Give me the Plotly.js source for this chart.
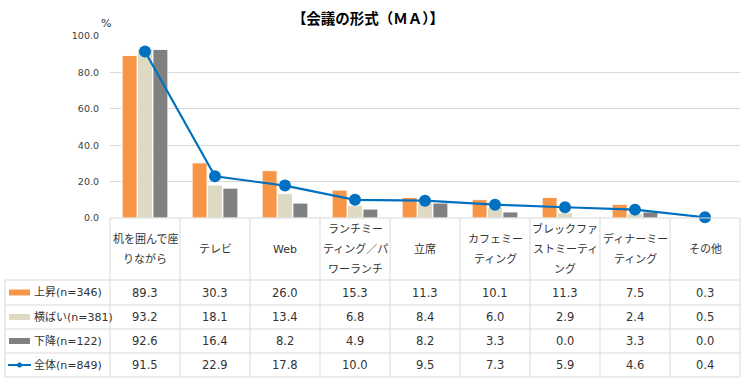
<!DOCTYPE html>
<html>
<head>
<meta charset="utf-8">
<script src="https://cdn.plot.ly/plotly-3.0.1.min.js"></script>
<style>html,body{margin:0;padding:0;background:#fff;}#chart{width:748px;height:385px;}</style>
</head>
<body>
<div id="chart"></div>
<script>
// ---- data ----
const categories = ['机を囲んで座\nりながら', 'テレビ', 'Web', 'ランチミー\nティング／パ\nワーランチ', '立席', 'カフェミー\nティング', 'ブレックファ\nストミーティ\nング', 'ディナーミー\nティング', 'その他'];
const seriesNames = ['上昇(n=346)', '横ばい(n=381)', '下降(n=122)', '全体(n=849)'];
const upValues = [89.3, 30.3, 26.0, 15.3, 11.3, 10.1, 11.3, 7.5, 0.3];
const flatValues = [93.2, 18.1, 13.4, 6.8, 8.4, 6.0, 2.9, 2.4, 0.5];
const downValues = [92.6, 16.4, 8.2, 4.9, 8.2, 3.3, 0.0, 3.3, 0.0];
const totalValues = [91.5, 22.9, 17.8, 10.0, 9.5, 7.3, 5.9, 4.6, 0.4];
const yTicks = [0, 20, 40, 60, 80, 100];
const titleText = '【会議の形式（ＭＡ）】';
const unitText = '%';

// ---- style ----
const colors = ['#F79646', '#DDD9C3', '#808080', '#0070C0'];
const W = 748, H = 385;
const L = 110, R = 740, T = 36, B = 218;
const rowEdges = [280, 305, 329, 353, 377];
const tableLeft = 5;
const lineCol = '#D9D9D9';
const numFont = 'DejaVu Sans, Noto Sans CJK JP, sans-serif';
const jpFont = 'DejaVu Sans, Noto Sans CJK JP, sans-serif';
const txtCol = '#333333';

const px = p => (p - L) / (R - L);
const py = p => (B - p) / (B - T);

const xIdx = categories.map((c, i) => i);
const barSeries = [upValues, flatValues, downValues];
const traces = barSeries.map((vals, k) => ({
  type: 'bar', x: xIdx, y: vals, name: seriesNames[k],
  marker: {color: colors[k], line: {color: 'rgba(255,255,255,0.9)', width: 1}},
  hoverinfo: 'y'
}));
traces.push({
  type: 'scatter', mode: 'lines+markers', x: xIdx, y: totalValues, name: seriesNames[3],
  line: {color: colors[3], width: 2.2},
  marker: {color: colors[3], size: 12},
  cliponaxis: false
});

const shapes = [];
const annotations = [];
const n = categories.length;

// horizontal table lines
shapes.push({type: 'line', xref: 'paper', yref: 'paper', x0: 0, x1: 1, y0: py(B), y1: py(B), line: {color: lineCol, width: 1}});
rowEdges.forEach(r => shapes.push({type: 'line', xref: 'paper', yref: 'paper', x0: px(tableLeft), x1: 1, y0: py(r), y1: py(r), line: {color: lineCol, width: 1}}));
// vertical table lines
shapes.push({type: 'line', xref: 'paper', yref: 'paper', x0: px(tableLeft), x1: px(tableLeft), y0: py(rowEdges[0]), y1: py(rowEdges[rowEdges.length - 1]), line: {color: lineCol, width: 1}});
for (let i = 0; i <= n; i++) {
  const xp = i / n;
  shapes.push({type: 'line', xref: 'paper', yref: 'paper', x0: xp, x1: xp, y0: py(B), y1: py(rowEdges[rowEdges.length - 1]), line: {color: lineCol, width: 1}});
}

// header labels
const headerMid = (B + rowEdges[0]) / 2;
categories.forEach((c, i) => {
  const lines = c.split('\n');
  lines.forEach((ln, k) => {
    const yPix = headerMid + (k - (lines.length - 1) / 2) * 20;
    annotations.push({xref: 'x', yref: 'paper', x: i, y: py(yPix), text: ln, showarrow: false,
      xanchor: 'center', yanchor: 'middle', font: {family: jpFont, size: 11, color: txtCol}});
  });
});

// value rows
const allSeries = [upValues, flatValues, downValues, totalValues];
allSeries.forEach((vals, r) => {
  const mid = (rowEdges[r] + rowEdges[r + 1]) / 2;
  vals.forEach((v, i) => {
    annotations.push({xref: 'x', yref: 'paper', x: i, y: py(mid), text: v.toFixed(1), showarrow: false,
      xanchor: 'center', yanchor: 'middle', font: {family: numFont, size: 11.5, color: txtCol}});
  });
  // legend label
  annotations.push({xref: 'paper', yref: 'paper', x: px(32), y: py(mid), text: seriesNames[r], showarrow: false,
    xanchor: 'left', yanchor: 'middle', font: {family: jpFont, size: 11, color: txtCol}});
  // swatch
  if (r < 3) {
    shapes.push({type: 'rect', xref: 'paper', yref: 'paper', x0: px(9), x1: px(30), y0: py(mid - 3), y1: py(mid + 3),
      fillcolor: colors[r], line: {width: 0}});
  } else {
    shapes.push({type: 'line', xref: 'paper', yref: 'paper', x0: px(8), x1: px(31), y0: py(mid), y1: py(mid),
      line: {color: colors[3], width: 2}});
    shapes.push({type: 'circle', xref: 'paper', yref: 'paper', x0: px(17), x1: px(22), y0: py(mid - 2.5), y1: py(mid + 2.5),
      fillcolor: colors[3], line: {width: 0}});
  }
});

// unit label
annotations.push({xref: 'paper', yref: 'paper', x: px(106), y: py(23), text: unitText, showarrow: false,
  xanchor: 'center', yanchor: 'middle', font: {family: jpFont, size: 11, color: txtCol}});

const layout = {
  width: W, height: H,
  margin: {l: L, r: W - R, t: T, b: H - B, pad: 0},
  paper_bgcolor: '#ffffff', plot_bgcolor: '#ffffff',
  showlegend: false,
  barmode: 'group', bargap: 0.34, bargroupgap: 0.03,
  title: {text: titleText, xref: 'container', yref: 'container', x: 368 / W, y: 1 - 19 / H,
    xanchor: 'center', yanchor: 'middle', font: {family: 'Noto Sans CJK JP, sans-serif', size: 14.5, color: '#000', weight: 'bold'}},
  xaxis: {type: 'linear', range: [-0.5, n - 0.5], showticklabels: false, showgrid: false, zeroline: false, ticks: '', fixedrange: true},
  yaxis: {range: [0, 100], tickvals: yTicks, ticktext: yTicks.map(v => v.toFixed(1)), showgrid: true, gridcolor: lineCol, gridwidth: 1,
    zeroline: false, showline: false, ticks: '', ticklabelstandoff: 10,
    tickfont: {family: numFont, size: 9.5, color: '#404040'}, fixedrange: true},
  shapes: shapes,
  annotations: annotations
};

Plotly.newPlot('chart', traces, layout, {displayModeBar: false, staticPlot: true});
</script>
</body>
</html>
